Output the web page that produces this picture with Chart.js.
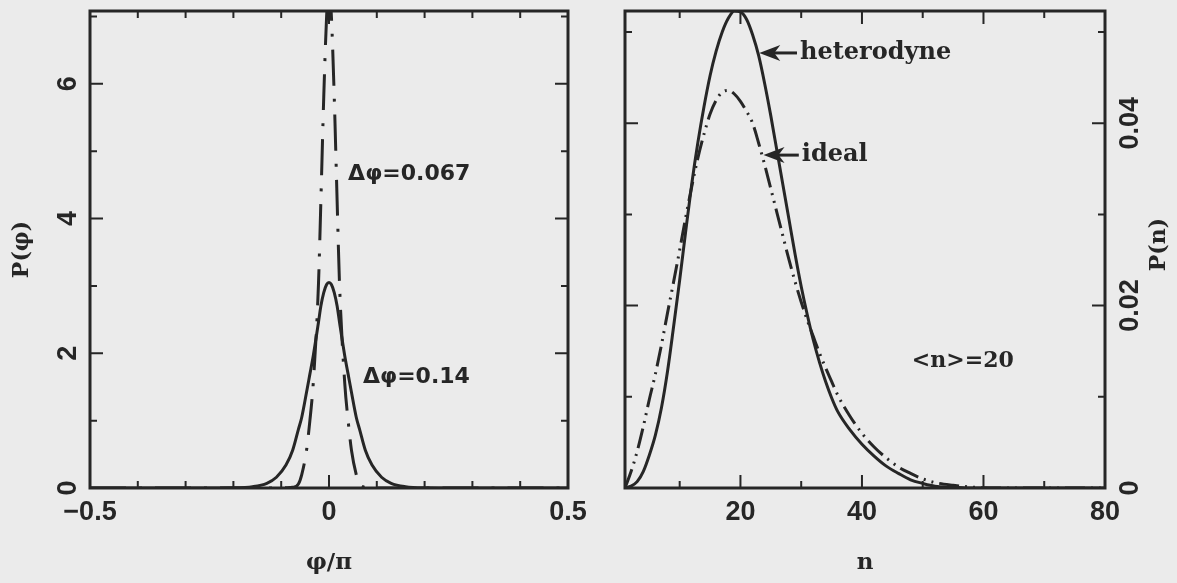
<!DOCTYPE html>
<html>
<head>
<meta charset="utf-8">
<script src="https://cdn.jsdelivr.net/npm/chart.js@4.4.1/dist/chart.umd.min.js"></script>
<style>
html,body{margin:0;padding:0;background:#ebebeb;width:1177px;height:583px;overflow:hidden}
.pane{position:absolute;top:0;height:583px}
#p1{left:0;width:590px}
#p2{left:590px;width:587px}
</style>
</head>
<body>
<div class="pane" id="p1"><canvas id="c1"></canvas></div>
<div class="pane" id="p2"><canvas id="c2"></canvas></div>
<script>
// ---------- data: left panel (phase distribution) ----------
const phi = [-0.5, -0.3, -0.2, -0.16, -0.13, -0.11, -0.09, -0.076, -0.064, -0.057, -0.047, -0.04, -0.033, -0.022, -0.017, -0.011, -0.005, 0,
             0.005, 0.011, 0.017, 0.022, 0.033, 0.04, 0.047, 0.057, 0.064, 0.076, 0.09, 0.11, 0.13, 0.16, 0.2, 0.3, 0.5];
const pPhiWide = [0, 0, 0.004, 0.02, 0.07, 0.16, 0.34, 0.56, 0.87, 1.05, 1.42, 1.69, 1.96, 2.46, 2.70, 2.90, 3.02, 3.05,
                  3.02, 2.90, 2.70, 2.46, 1.96, 1.69, 1.42, 1.05, 0.87, 0.56, 0.34, 0.16, 0.07, 0.02, 0.004, 0, 0];
const pPhiNarrow = [0, 0, 0, 0, 0, 0, 0.003, 0.01, 0.06, 0.2, 0.56, 1.0, 1.55, 3.03, 4.26, 5.8, 7.0, 7.5,
                    7.0, 5.8, 4.26, 3.03, 1.55, 1.0, 0.56, 0.2, 0.06, 0.01, 0.003, 0, 0, 0, 0, 0, 0];
const phiTicks = [-0.5, -0.4, -0.3, -0.2, -0.1, 0, 0.1, 0.2, 0.3, 0.4, 0.5];
const phiTickLabels = ['\u22120.5', '', '', '', '', '0', '', '', '', '', '0.5'];
const pPhiTicks = [0, 1, 2, 3, 4, 5, 6, 7];
const pPhiTickLabels = ['0', '', '2', '', '4', '', '6', ''];

// ---------- data: right panel (photon number distribution) ----------
const nVals = [1, 2, 3, 4, 5, 6, 7, 8, 9, 10, 11, 12, 13, 14, 15, 16, 17, 18, 19, 20, 21, 22, 23, 24, 25, 26, 27, 28, 29, 30,
               31, 32, 33, 34, 35, 36, 38, 40, 42, 44, 46, 48, 50, 52, 55, 58, 62, 70, 80];
const pHeterodyne = [0, 0.0002, 0.0007, 0.0018, 0.0036, 0.0058, 0.0088, 0.0128, 0.0177, 0.0228, 0.0282, 0.0334, 0.0379, 0.0418,
                     0.0452, 0.0479, 0.0500, 0.0515, 0.0523, 0.0522, 0.0514, 0.0497, 0.0474, 0.0443, 0.0408, 0.0370, 0.0332,
                     0.0294, 0.0256, 0.0221, 0.0190, 0.0162, 0.0138, 0.0117, 0.0099, 0.0084, 0.0064, 0.0048, 0.0035, 0.0024,
                     0.0016, 0.0009, 0.0005, 0.0002, 0.0001, 0, 0, 0, 0];
const pIdeal = [0, 0.0018, 0.0040, 0.0067, 0.0097, 0.0125, 0.0157, 0.0192, 0.0226, 0.0261, 0.0297, 0.0331, 0.0362, 0.0388,
                0.0410, 0.0425, 0.0434, 0.0436, 0.0432, 0.0424, 0.0413, 0.0400, 0.0378, 0.0354, 0.0328, 0.0302, 0.0276,
                0.0250, 0.0226, 0.0204, 0.0184, 0.0166, 0.0148, 0.0132, 0.0117, 0.0102, 0.0079, 0.0060, 0.0045, 0.0033,
                0.0023, 0.0016, 0.0010, 0.0006, 0.0003, 0.0001, 0, 0, 0];
const nTicks = [10, 20, 30, 40, 50, 60, 70, 80];
const nTickLabels = ['', '20', '', '40', '', '60', '', '80'];
const pnTicks = [0, 0.01, 0.02, 0.03, 0.04, 0.05];
const pnTickLabels = ['0', '', '0.02', '', '0.04', ''];

// ---------- styling ----------
const INK = '#262626';
const TICK_FONT = {family: 'Liberation Sans', weight: 'bold', size: 27};
const TITLE_FONT = {family: 'DejaVu Serif', weight: 'bold', size: 23};
const NOTE_SERIF = 'bold 24px "DejaVu Serif"';
const NOTE_SERIF_S = 'bold 22px "DejaVu Serif"';
const NOTE_SANS = 'bold 22px "DejaVu Sans"';

const framePlugin = {
  id: 'frame',
  afterDraw(chart) {
    const {ctx, chartArea: a} = chart;
    const xs = chart.scales.x, ys = chart.scales.y;
    ctx.save();
    ctx.strokeStyle = INK;
    ctx.lineWidth = 2;
    ctx.beginPath();
    xs.ticks.forEach(t => {
      const p = xs.getPixelForValue(t.value);
      const len = t.label ? 13 : 7;
      ctx.moveTo(p, a.bottom); ctx.lineTo(p, a.bottom - len);
      ctx.moveTo(p, a.top); ctx.lineTo(p, a.top + len);
    });
    ys.ticks.forEach(t => {
      const p = ys.getPixelForValue(t.value);
      const len = t.label ? 13 : 7;
      ctx.moveTo(a.left, p); ctx.lineTo(a.left + len, p);
      ctx.moveTo(a.right, p); ctx.lineTo(a.right - len, p);
    });
    ctx.stroke();
    ctx.lineWidth = 3;
    ctx.strokeRect(a.left, a.top, a.right - a.left, a.bottom - a.top);
    ctx.restore();
  }
};

const notesPlugin = {
  id: 'notes',
  afterDraw(chart, args, opts) {
    const {ctx, chartArea: a} = chart;
    const xs = chart.scales.x, ys = chart.scales.y;
    ctx.save();
    ctx.fillStyle = INK;
    ctx.strokeStyle = INK;
    (opts.items || []).forEach(it => {
      const px = xs.getPixelForValue(it.x), py = ys.getPixelForValue(it.y);
      ctx.font = it.font;
      ctx.textAlign = it.align || 'left';
      ctx.textBaseline = 'middle';
      ctx.fillText(it.text, px, py);
      if (it.tip !== undefined) {
        const tx = xs.getPixelForValue(it.tip);
        ctx.lineWidth = 3;
        ctx.beginPath(); ctx.moveTo(px - 3, py); ctx.lineTo(tx + 12, py); ctx.stroke();
        ctx.beginPath();
        ctx.moveTo(tx, py); ctx.lineTo(tx + 21, py - 8); ctx.lineTo(tx + 15, py); ctx.lineTo(tx + 21, py + 8);
        ctx.closePath(); ctx.fill();
      }
    });
    if (opts.sideTitle) {
      ctx.font = 'bold 22px "DejaVu Serif"';
      ctx.textAlign = 'center';
      ctx.textBaseline = 'middle';
      ctx.translate(a.right + opts.sideTitle.dx, (a.top + a.bottom) / 2 - 5);
      ctx.rotate(-Math.PI / 2);
      ctx.fillText(opts.sideTitle.text, 0, 0);
    }
    ctx.restore();
  }
};

function mkPts(xs, ys) { return xs.map((x, i) => ({x: x, y: ys[i]})); }

function lineDs(data, dash) {
  return {
    data: data, borderColor: INK, borderWidth: 3, borderDash: dash, pointRadius: 0,
    cubicInterpolationMode: 'monotone', fill: false
  };
}

function noPad(s) { s.paddingTop = 0; s.paddingBottom = 0; s.paddingLeft = 0; s.paddingRight = 0; }

function axisX(min, max, ticks, labels, title, pad) {
  return {
    type: 'linear', position: 'bottom', min: min, max: max,
    afterBuildTicks: s => { s.ticks = ticks.map(v => ({value: v})); },
    afterFit: s => { s.height = 95; noPad(s); },
    grid: {display: false, drawTicks: false},
    border: {display: false},
    ticks: {autoSkip: false, maxRotation: 0, minRotation: 0, padding: pad, color: INK, font: TICK_FONT,
            callback: (v, i) => labels[i]},
    title: {display: !!title, text: title, color: INK, font: TITLE_FONT, padding: {top: 0, bottom: 6}}
  };
}

function axisY(min, max, ticks, labels, pos, width, pad, title) {
  return {
    type: 'linear', position: pos, min: min, max: max,
    afterBuildTicks: s => { s.ticks = ticks.map(v => ({value: v})); },
    afterFit: s => { s.width = width; noPad(s); },
    grid: {display: false, drawTicks: false},
    border: {display: false},
    ticks: {autoSkip: false, minRotation: 90, maxRotation: 90, crossAlign: 'center', padding: pad,
            color: INK, font: TICK_FONT, callback: (v, i) => labels[i]},
    title: {display: !!title, text: title || '', color: INK, font: {family: 'DejaVu Serif', weight: 'bold', size: 22},
            padding: {top: 9, bottom: 0}}
  };
}

const common = {
  responsive: true, maintainAspectRatio: false, animation: false, devicePixelRatio: 1,
  events: []
};

new Chart(document.getElementById('c1'), {
  type: 'line',
  data: {datasets: [
    lineDs(mkPts(phi, pPhiWide), []),
    lineDs(mkPts(phi, pPhiNarrow), [36, 13, 3, 13])
  ]},
  options: Object.assign({}, common, {
    layout: {padding: {top: 11, right: 22, left: 0, bottom: 0}},
    scales: {
      x: axisX(-0.5, 0.5, phiTicks, phiTickLabels, '\u03c6/\u03c0', 8),
      y: axisY(0, 7.08, pPhiTicks, pPhiTickLabels, 'left', 90, 14, 'P(\u03c6)')
    },
    plugins: {
      legend: {display: false}, tooltip: {enabled: false},
      notes: {items: [
        {text: '\u0394\u03c6=0.067', x: 0.04, y: 4.65, font: NOTE_SANS},
        {text: '\u0394\u03c6=0.14', x: 0.071, y: 1.65, font: NOTE_SANS}
      ]}
    }
  }),
  plugins: [framePlugin, notesPlugin]
});

new Chart(document.getElementById('c2'), {
  type: 'line',
  data: {datasets: [
    lineDs(mkPts(nVals, pHeterodyne), []),
    lineDs(mkPts(nVals, pIdeal), [20, 6, 2, 6, 2, 6])
  ]},
  options: Object.assign({}, common, {
    layout: {padding: {top: 11, right: 0, left: 35, bottom: 0}},
    scales: {
      x: axisX(1, 80, nTicks, nTickLabels, 'n', 8),
      y: axisY(0, 0.0523, pnTicks, pnTickLabels, 'right', 72, -1, '')
    },
    plugins: {
      legend: {display: false}, tooltip: {enabled: false},
      notes: {
        items: [
          {text: 'heterodyne', x: 29.8, y: 0.0477, tip: 23.1, font: NOTE_SERIF},
          {text: 'ideal', x: 30.1, y: 0.0365, tip: 23.8, font: NOTE_SERIF},
          {text: '<n>=20', x: 56.6, y: 0.0139, align: 'center', font: NOTE_SERIF_S}
        ],
        sideTitle: {text: 'P(n)', dx: 54}
      }
    }
  }),
  plugins: [framePlugin, notesPlugin]
});
</script>
</body>
</html>
